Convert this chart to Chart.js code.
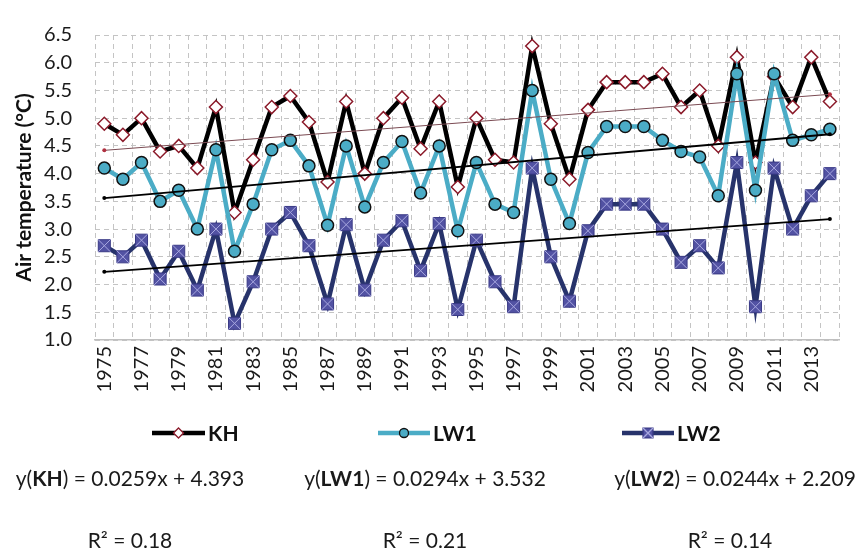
<!DOCTYPE html>
<html>
<head>
<meta charset="utf-8">
<script src="https://cdn.jsdelivr.net/npm/chart.js@4"></script>
<style>
  html, body { margin: 0; padding: 0; background: #fff; }
  #wrap { position: relative; width: 860px; height: 549px; overflow: hidden; }
  #chart { position: absolute; left: 0; top: 0; }
  .eq { position: absolute; transform: translate(-50%, -50%); white-space: nowrap;
        font-family: Lato, "Open Sans", sans-serif; font-size: 21px; color: #1a1a1a; }
</style>
</head>
<body>
<div id="wrap">
  <canvas id="chart" width="860" height="549"></canvas>
  <div class="eq" style="left:130px; top:477px">y(<b>KH</b>) = 0.0259x + 4.393</div>
  <div class="eq" style="left:425px; top:477px">y(<b>LW1</b>) = 0.0294x + 3.532</div>
  <div class="eq" style="left:735px; top:477px">y(<b>LW2</b>) = 0.0244x + 2.209</div>
  <div class="eq" style="left:130px; top:539px">R² = 0.18</div>
  <div class="eq" style="left:425px; top:539px">R² = 0.21</div>
  <div class="eq" style="left:730px; top:539px">R² = 0.14</div>
</div>
<script>
const years = ["1975","1976","1977","1978","1979","1980","1981","1982","1983","1984",
  "1985","1986","1987","1988","1989","1990","1991","1992","1993","1994",
  "1995","1996","1997","1998","1999","2000","2001","2002","2003","2004",
  "2005","2006","2007","2008","2009","2010","2011","2012","2013","2014"];

const kh = [4.9, 4.7, 5.0, 4.4, 4.5, 4.1, 5.2, 3.3, 4.25, 5.2,
  5.4, 4.93, 3.85, 5.3, 4.0, 5.0, 5.37, 4.45, 5.3, 3.76,
  5.0, 4.25, 4.2, 6.3, 4.9, 3.9, 5.15, 5.65, 5.65, 5.65,
  5.8, 5.2, 5.5, 4.5, 6.1, 4.2, 5.75, 5.2, 6.1, 5.3];

const lw1 = [4.1, 3.9, 4.2, 3.5, 3.7, 3.0, 4.43, 2.6, 3.45, 4.43,
  4.6, 4.14, 3.07, 4.5, 3.4, 4.2, 4.58, 3.65, 4.5, 2.97,
  4.2, 3.45, 3.3, 5.5, 3.9, 3.1, 4.38, 4.85, 4.85, 4.85,
  4.6, 4.4, 4.3, 3.6, 5.8, 3.7, 5.8, 4.6, 4.7, 4.8];

const lw2 = [2.7, 2.5, 2.8, 2.1, 2.6, 1.9, 3.0, 1.3, 2.05, 3.0,
  3.3, 2.7, 1.65, 3.08, 1.9, 2.8, 3.15, 2.25, 3.1, 1.55,
  2.8, 2.05, 1.6, 4.1, 2.5, 1.7, 2.97, 3.45, 3.45, 3.45,
  3.0, 2.4, 2.7, 2.3, 4.2, 1.6, 4.1, 3.0, 3.6, 4.0];

// trend line ends (1975, 2014)
const trendKH = [4.42, 5.43];
const trendLW1 = [3.56, 4.71];
const trendLW2 = [2.23, 3.18];

const FONT = "Lato, 'Open Sans', sans-serif";

function ends(pair) {
  return years.map((_, i) => i === 0 ? pair[0] : i === years.length - 1 ? pair[1] : null);
}

const khStyle = { color: "#000000", point: "rectRot", radius: 6.5, fill: "#ffffff", edge: "#8b1a2a" };
const lw1Style = { color: "#4bacc6", point: "circle", radius: 6, fill: "#4bacc6", edge: "#111111" };
const lw2Style = { color: "#27336b", point: "rect", radius: 8.5, fill: "#5252a3", edge: "#3a3a86" };

// legend drawn under the axis labels
const legendPlugin = {
  id: "sketchLegend",
  afterDraw(chart) {
    const ctx = chart.ctx;
    const items = [
      { label: "KH", s: khStyle, x0: 152, x1: 205, w: 4.5 },
      { label: "LW1", s: lw1Style, x0: 378, x1: 430, w: 4.5 },
      { label: "LW2", s: lw2Style, x0: 622, x1: 674, w: 4.5 }
    ];
    const y = 433;
    ctx.save();
    items.forEach(it => {
      ctx.strokeStyle = it.s.color;
      ctx.lineWidth = it.w;
      ctx.setLineDash([]);
      ctx.beginPath();
      ctx.moveTo(it.x0, y);
      ctx.lineTo(it.x1, y);
      ctx.stroke();
      const cx = (it.x0 + it.x1) / 2;
      ctx.fillStyle = it.s.fill;
      ctx.strokeStyle = it.s.edge;
      ctx.lineWidth = 1.3;
      Chart.helpers.drawPoint(ctx, { pointStyle: it.s.point, radius: it.s.radius - 1.5, rotation: 0, borderWidth: 1.3 }, cx, y);
      if (it.label === "LW2") {
        ctx.strokeStyle = "#a8a8e0";
        Chart.helpers.drawPoint(ctx, { pointStyle: "crossRot", radius: it.s.radius - 1.5, rotation: 0, borderWidth: 1 }, cx, y);
      }
      ctx.fillStyle = "#111";
      ctx.font = "bold 21px " + FONT;
      ctx.textBaseline = "middle";
      ctx.textAlign = "left";
      ctx.fillText(it.label, it.x1 + 3, y + 1);
    });
    ctx.restore();
  }
};

new Chart(document.getElementById("chart"), {
  type: "line",
  data: {
    labels: years,
    datasets: [
      {
        label: "KH trend", data: ends(trendKH), spanGaps: true,
        borderColor: "#7a4a52", borderWidth: 1, pointRadius: 2,
        pointBackgroundColor: "#b03040", pointBorderWidth: 0, order: -3
      },
      {
        label: "LW1 trend", data: ends(trendLW1), spanGaps: true,
        borderColor: "#000", borderWidth: 1.8, pointRadius: 2,
        pointBackgroundColor: "#000", pointBorderWidth: 0, order: -2
      },
      {
        label: "LW2 trend", data: ends(trendLW2), spanGaps: true,
        borderColor: "#000", borderWidth: 1.8, pointRadius: 2,
        pointBackgroundColor: "#000", pointBorderWidth: 0, order: -1
      },
      {
        label: "LW2 marks", data: lw2, showLine: false,
        pointStyle: "crossRot", pointRadius: 8.5, pointBorderColor: "#a8a8e0",
        pointBorderWidth: 1, order: 0
      },
      {
        label: "LW2", data: lw2, borderColor: lw2Style.color, borderWidth: 4.5,
        pointStyle: lw2Style.point, pointRadius: lw2Style.radius,
        pointBackgroundColor: lw2Style.fill, pointBorderColor: lw2Style.edge,
        pointBorderWidth: 1, order: 1
      },
      {
        label: "LW1", data: lw1, borderColor: lw1Style.color, borderWidth: 4.5,
        pointStyle: lw1Style.point, pointRadius: lw1Style.radius,
        pointBackgroundColor: lw1Style.fill, pointBorderColor: lw1Style.edge,
        pointBorderWidth: 1.5, order: 2
      },
      {
        label: "KH", data: kh, borderColor: khStyle.color, borderWidth: 4.5,
        pointStyle: khStyle.point, pointRadius: khStyle.radius,
        pointBackgroundColor: khStyle.fill, pointBorderColor: khStyle.edge,
        pointBorderWidth: 1.5, order: 3
      }
    ]
  },
  options: {
    responsive: false,
    animation: false,
    layout: { padding: { top: 22, right: 7, left: 0, bottom: 149 } },
    elements: { line: { tension: 0 } },
    plugins: {
      legend: { display: false },
      tooltip: { enabled: false }
    },
    scales: {
      x: {
        offset: true,
        grid: { offset: true, color: "#c4c4c4", lineWidth: 1, drawTicks: false },
        border: { display: true, color: "#bfbfbf", width: 1.5, dash: [5, 4] },
        ticks: {
          autoSkip: false, maxRotation: 90, minRotation: 90, padding: 6,
          color: "#1a1a1a", font: { family: FONT, size: 20 },
          callback: (v, i) => i % 2 === 0 ? years[i] : ""
        },
        afterFit: s => { s.height = 60; }
      },
      y: {
        min: 1.0, max: 6.5,
        grid: { color: "#c4c4c4", lineWidth: 1, drawTicks: false },
        border: { display: false, dash: [5, 4] },
        ticks: {
          stepSize: 0.5, padding: 23, color: "#1a1a1a",
          font: { family: FONT, size: 20 },
          callback: v => v.toFixed(1)
        },
        title: {
          display: true, text: "Air temperature (°C)", color: "#111",
          font: { family: FONT, size: 21, weight: "bold" },
          padding: { top: 12, bottom: 0 }
        },
        afterFit: s => { s.width = 95; }
      }
    }
  },
  plugins: [legendPlugin]
});
</script>
</body>
</html>
